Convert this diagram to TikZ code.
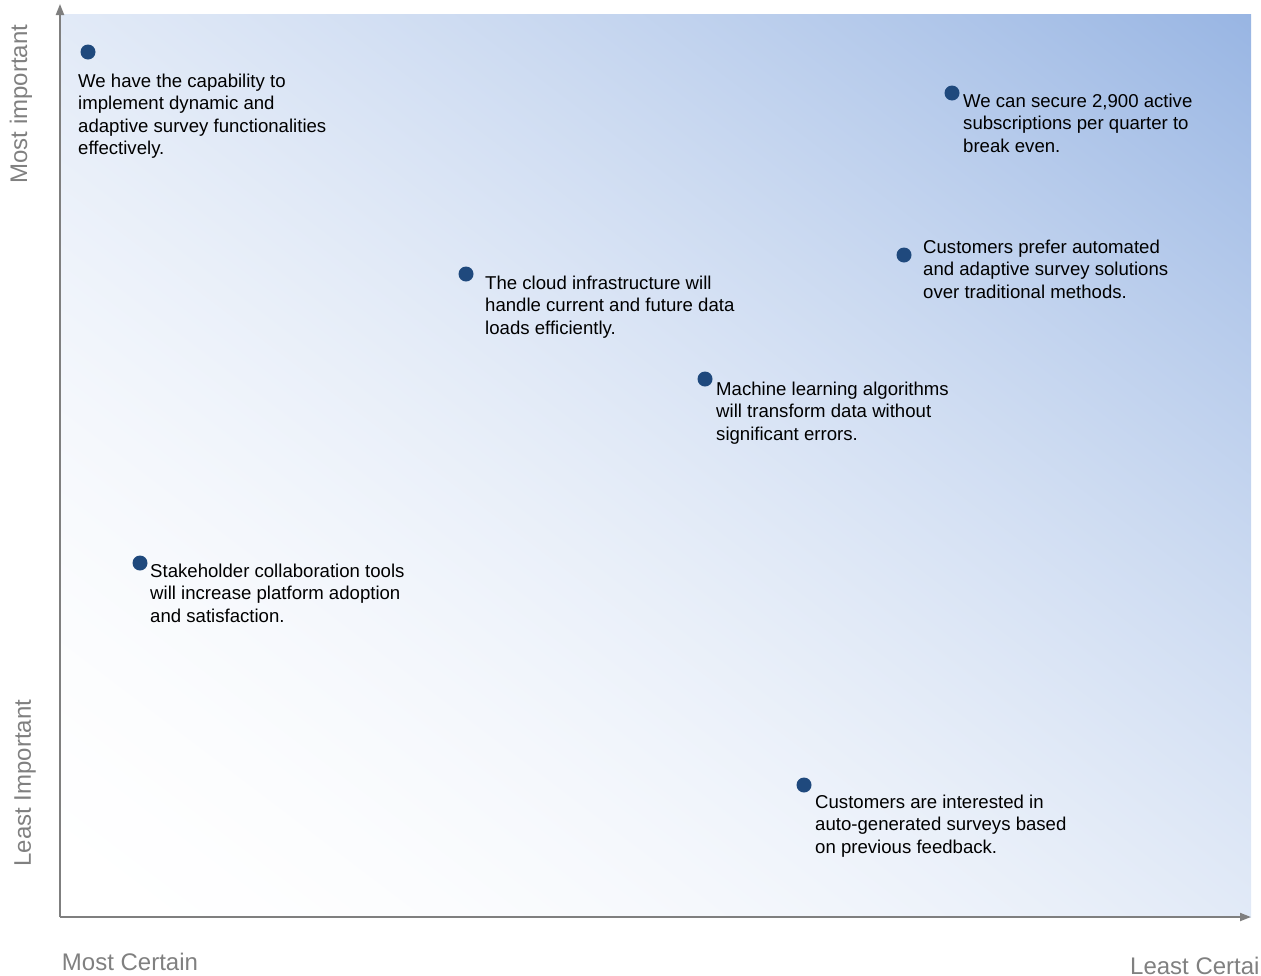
\documentclass[tikz,border=0pt]{standalone}
\usepackage{fontspec}
\setmainfont{Liberation Sans}
\usetikzlibrary{arrows.meta}
\definecolor{dotblue}{HTML}{1F497D}
\definecolor{axisgray}{HTML}{7F7F7F}
\definecolor{labelgray}{HTML}{808080}
\pgfdeclarefunctionalshading{cornerblue}{\pgfpointorigin}{\pgfpoint{100bp}{100bp}}{}{
  add 50 sub 100 div
  dup abs add 2 div
  dup 1 sub abs neg exch 1 add add 2 div
  1.8 exp
  dup 0.404 mul 1 exch sub
  exch dup 0.29 mul 1 exch sub
  exch 0.11 mul 1 exch sub
}
\begin{document}
\begin{tikzpicture}[x=1pt,y=-1pt,
  dot/.style={circle,fill=dotblue,inner sep=0pt,minimum size=15pt},
  claim/.style={anchor=north west,inner sep=0pt,align=left,font=\fontsize{18.6}{22.5}\selectfont,text=black},
  axislabel/.style={font=\fontsize{24}{28}\selectfont,text=labelgray,inner sep=0pt},
  axisline/.style={draw=axisgray,line width=2pt,-{Triangle[length=11pt,width=8pt]}}]
\useasboundingbox (0,0) rectangle (1261,975);
\shade[shading=cornerblue] (60,14) rectangle (1251,917);
\coordinate (origin) at (60,917);
\coordinate (ytip) at (60,4);
\coordinate (xtip) at (1251,917);
\draw[axisline] (origin) -- (ytip);
\draw[axisline] (origin) -- (xtip);
\node[axislabel,rotate=90] (ymost) at (21,104) {Most important};
\node[axislabel,rotate=90] (yleast) at (25,783) {Least Important};
\node[axislabel] (xmost) at (130,962) {Most Certain};
\node[axislabel,anchor=west] (xleast) at (1130,966) {Least Certain};
\node[dot] (d1) at (88,52) {};
\node[claim] (t1) at (78,71.25) {\strut We have the capability to\\implement dynamic and\\adaptive survey functionalities\\effectively.};
\node[dot] (d2) at (952,93) {};
\node[claim] (t2) at (963,91.25) {\strut We can secure 2,900 active\\subscriptions per quarter to\\break even.};
\node[dot] (d3) at (466,274) {};
\node[claim] (t3) at (485,273.25) {\strut The cloud infrastructure will\\handle current and future data\\loads efficiently.};
\node[dot] (d4) at (904,255) {};
\node[claim] (t4) at (923,237.25) {\strut Customers prefer automated\\and adaptive survey solutions\\over traditional methods.};
\node[dot] (d5) at (705,379) {};
\node[claim] (t5) at (716,379.25) {\strut Machine learning algorithms\\will transform data without\\significant errors.};
\node[dot] (d6) at (140,563) {};
\node[claim] (t6) at (150,561.25) {\strut Stakeholder collaboration tools\\will increase platform adoption\\and satisfaction.};
\node[dot] (d7) at (804,785) {};
\node[claim] (t7) at (815,792.25) {\strut Customers are interested in\\auto-generated surveys based\\on previous feedback.};
\end{tikzpicture}
\end{document}
